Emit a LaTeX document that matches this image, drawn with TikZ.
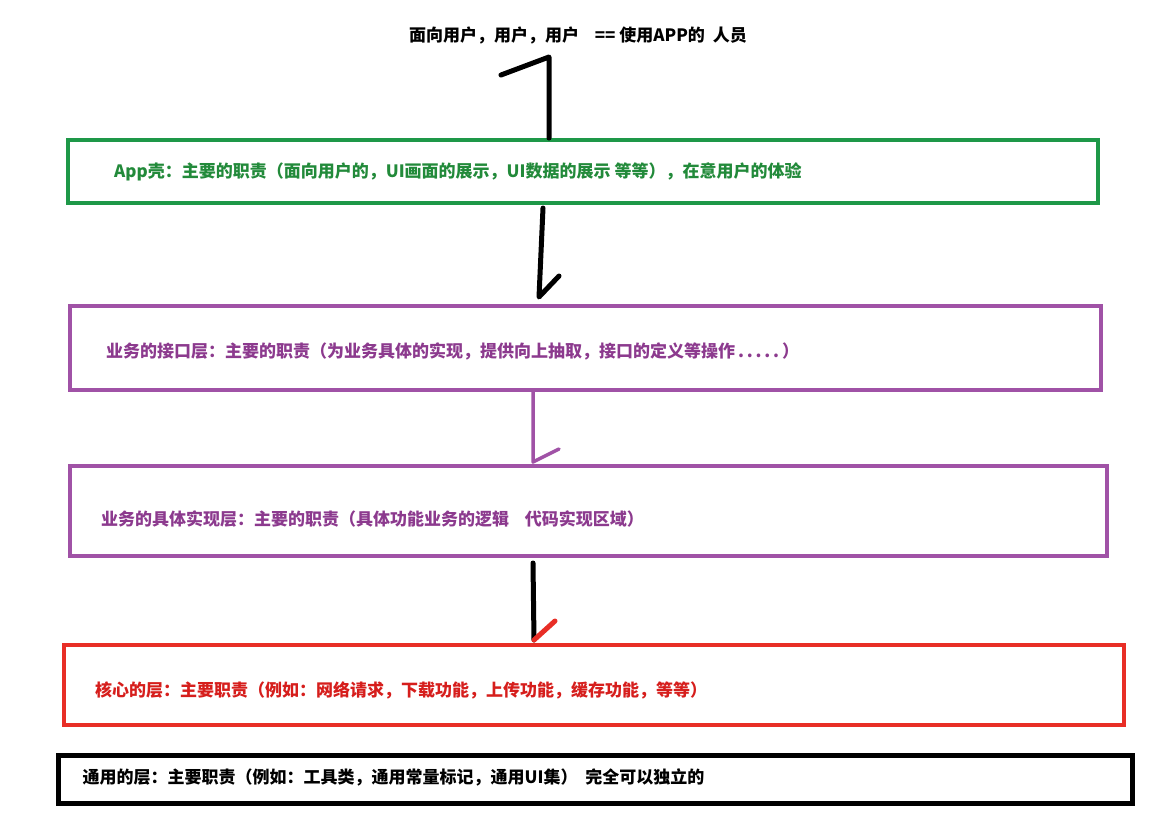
\documentclass[tikz,border=0pt]{standalone}
\usepackage{fontspec}
\setmainfont{Noto Sans CJK SC}
\usetikzlibrary{calc}
\definecolor{lgreen}{RGB}{30,152,72}
\definecolor{tgreen}{RGB}{34,138,58}
\definecolor{lpurple}{RGB}{160,82,166}
\definecolor{tpurple}{RGB}{140,58,142}
\definecolor{lred}{RGB}{232,46,38}
\definecolor{tred}{RGB}{214,30,28}
\begin{document}
\begin{tikzpicture}[x=1pt,y=-1pt,
  layer/.style={draw, line width=4pt, rectangle, inner sep=0pt},
  lbl/.style={anchor=west, inner sep=0pt, font=\fontsize{17}{20}\selectfont\bfseries},
  conn/.style={line width=5pt, line cap=round, line join=round},
  thin/.style={line width=3.5pt, line cap=round, line join=round}]
\useasboundingbox[fill=white] (0,0) rectangle (1168,814);
% title
\node[lbl, anchor=center] (title) at (578,35) {面向用户，用户，用户\ \ \ \ == 使用APP的\ \ 人员};
% boxes
\node[layer, lgreen, minimum width=1030pt, minimum height=63pt] (app) at (583,171.5) {};
\node[layer, lpurple, minimum width=1031pt, minimum height=84pt] (iface) at (585.5,348) {};
\node[layer, lpurple, minimum width=1037pt, minimum height=90pt] (impl) at (588.5,511) {};
\node[layer, lred, minimum width=1060pt, minimum height=80pt] (core) at (594,685) {};
\node[layer, black, line width=5pt, minimum width=1074pt, minimum height=48pt] (common) at (595,779) {};
% texts
\node[lbl, tgreen] (appt) at ($(app.west)+(48,0)$) {App壳：主要的职责（面向用户的，UI画面的展示，UI数据的展示 等等），在意用户的体验};
\node[lbl, tpurple] (ifacet) at ($(iface.west)+(38,3)$) {业务的接口层：主要的职责（为业务具体的实现，提供向上抽取，接口的定义等操作\,.\,.\,.\,.\,.\,）};
\node[lbl, tpurple] (implt) at ($(impl.west)+(33,8)$) {业务的具体实现层：主要的职责（具体功能业务的逻辑\ \ \ \ 代码实现区域）};
\node[lbl, tred] (coret) at ($(core.west)+(33,5)$) {核心的层：主要职责（例如：网络请求，下载功能，上传功能，缓存功能，等等）};
\node[lbl, black] (commont) at ($(common.west)+(27,-2)$) {通用的层：主要职责（例如：工具类，通用常量标记，通用UI集）\ \ 完全可以独立的};
% connectors
\coordinate (t1) at (549,57);
\draw[conn] (app.north -| t1) -- (t1) -- ++(-48,18);
\coordinate (s2) at (543,208);
\coordinate (t2) at (539,297);
\draw[conn] (s2) -- (t2) -- ++(20,-21);
\coordinate (t3) at (533,462);
\draw[thin, lpurple] (iface.south -| t3) -- (t3) -- ++(26,-13);
\coordinate (s4) at (533,563);
\coordinate (t4) at (534,640);
\draw[conn] (s4) -- (t4);
\draw[conn, lred] (t4) -- ++(21,-19);
\end{tikzpicture}
\end{document}
